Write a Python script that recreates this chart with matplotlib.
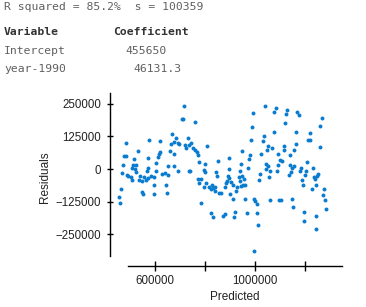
import numpy as np
import matplotlib.pyplot as plt

# predicted value and residual (in thousands)
predicted = [715, 707, 713, 485, 576, 621, 667, 685, 677, 691, 664, 696, 731, 720, 736, 723,
             531, 619, 615, 611, 661, 677, 477, 484, 517, 573, 472, 512, 525, 507, 520, 571,
             605, 653, 675,
             467, 488, 493, 504, 509, 523, 541, 555, 536, 549, 563, 573, 584, 595, 568, 603,
             627, 640, 653, 691, 736, 597, 643, 464, 547, 552, 597, 648, 456, 459,
             993, 761, 988, 983, 1031, 1036, 745, 751, 759, 767, 772, 807, 948, 980, 975, 1025,
             897, 777, 852, 799, 943, 897, 972,
             740, 796, 799, 844, 847, 772, 785, 777, 892, 897, 889, 884, 905, 911, 935, 956,
             948, 940, 953, 959, 804, 815, 823, 833, 841, 828, 839, 796, 879, 927, 924, 943,
             855, 865, 900, 913, 1020, 1017, 961, 996, 1001, 1007, 785, 825, 831, 871, 879,
             921, 916, 967, 1009, 1012, 996, 940,
             1040, 1083, 1077, 1128, 1123, 1168, 1176, 1267, 1120, 1261, 1075, 1165, 1221, 1213,
             1221, 1163, 1051, 1069, 1048, 1115, 1115, 1259, 1155, 1139, 1091, 1099, 1109, 1093,
             1045, 1051, 1043, 1141, 1157, 1149, 1208, 1184, 1232,
             1061, 1088, 1056, 1136, 1144, 1179, 1203, 1200, 1235, 1240, 1248, 1253, 1189, 1192,
             1245, 1227, 1277, 1272, 1280, 1059, 1096, 1104, 1147, 1152, 1283, 1195, 1197, 1243,
             1243]
residuals = [243, 192, 192, 100, 110, 109, 133, 118, 105, 101, 95, 95, 118, 92, 92, 80,
             69, 64, 57, 47, 69, 57, 50, 50, 38, 43, 15, 15, 15, 3, 0, 5,
             22, 13, 10,
             -14, -22, -27, -32, -42, -12, -27, -32, -42, -47, -42, -35, -27, -32, -9, -9,
             -19, -14, -24, -9, -7, -60, -60, -76, -88, -96, -96, -91, -107, -130,
             214, 180, 160, 113, 109, 128, 100, 80, 72, 64, 54, 90, 69, 54, 38, 57,
             41, 26, 31, 18, 18, 0, 5,
             -9, -5, -13, -12, -27, -40, -40, -55, -27, -35, -45, -55, -50, -60, -30, -40,
             -27, -47, -63, -60, -53, -68, -76, -73, -68, -60, -83, -70, -70, -68, -86, -65,
             -93, -91, -96, -114, -19, -42, -117, -114, -122, -135, -130, -170, -186, -181, -173,
             -165, -186, -170, -170, -214, -314, -6,
             243, 236, 220, 226, 213, 220, 208, 197, 177, 164, 143, 143, 138, 110,
             110, 97, 90, 80, 72, 90, 74, 85, 72, 54, 59, 36, 31, 15,
             18, 10, 0, 15, 13, 3, 26, 5, 5,
             -9, -7, -32, -24, -10, -9, -9, -22, -30, -40, -27, -19, -42, -63,
             -60, -76, -78, -99, -119, -119, -119, -119, -114, -145, -153, -165, -201, -181,
             -232]

yticks = [250000, 125000, 0, -125000, -250000]
xticks = [600000, 800000, 1000000, 1200000]
xtick_labels = ['600000', '', '1000000', '']

header = 'R squared = 85.2%  s = 100359'
variables = ['Intercept', 'year-1990']
coefs = ['455650', '46131.3']

x = np.array(predicted) * 1000
y = np.array(residuals) * 1000

sans = ['Liberation Sans', 'DejaVu Sans']
mono = 'DejaVu Sans Mono'
ink = '#222222'

fig = plt.figure(figsize=(3.66, 3.07), dpi=100)
ax = fig.add_axes([110 / 366, 51 / 307, 235 / 366, 163 / 307])

ax.scatter(x, y, s=8, color='#0a7ccf', linewidths=0)

ax.set_xlim(420000, 1360000)
ax.set_ylim(-334600, 292300)

for side in ['top', 'right']:
    ax.spines[side].set_visible(False)
ax.spines['left'].set_linewidth(1.0)
ax.spines['bottom'].set_linewidth(1.0)
ax.spines['bottom'].set_position(('outward', 7.2))
ax.spines['bottom'].set_bounds(492000, 1348000)

ax.set_yticks(yticks)
ax.set_yticklabels([str(v).replace('-', '\u2212') for v in yticks], family=sans, fontsize=8.3, color=ink)
ax.set_xticks(xticks)
ax.set_xticklabels(xtick_labels, family=sans, fontsize=8.3, color=ink)
ax.tick_params(axis='y', direction='inout', length=4.5, width=1.0, pad=4)
ax.tick_params(axis='x', direction='inout', length=6.5, width=1.0, pad=3)

ax.set_ylabel('Residuals', family=sans, fontsize=8.5, color=ink)
ax.yaxis.set_label_coords(-59 / 235, (256 - 177) / 163)
ax.set_xlabel('Predicted', family=sans, fontsize=8.5, color=ink)
ax.xaxis.set_label_coords((235 - 110) / 235, -(291 - 256) / 163)

# regression output above the plot
def fx(px):
    return px / 366

def fy(py):
    return 1 - py / 307

fs = 8.2
fig.text(fx(4), fy(7), header, family=mono, fontsize=fs, color='#606060', va='center')
fig.text(fx(4), fy(32), 'Variable', family=mono, fontsize=fs, color='#333333', va='center', weight='bold')
fig.text(fx(113), fy(32), 'Coefficient', family=mono, fontsize=fs, color='#333333', va='center', weight='bold')
fig.text(fx(4), fy(51), variables[0], family=mono, fontsize=fs, color='#606060', va='center')
fig.text(fx(125), fy(51), coefs[0], family=mono, fontsize=fs, color='#606060', va='center')
fig.text(fx(4), fy(69), variables[1], family=mono, fontsize=fs, color='#606060', va='center')
fig.text(fx(133), fy(69), coefs[1], family=mono, fontsize=fs, color='#606060', va='center')

fig.savefig('out.png', dpi=100)
